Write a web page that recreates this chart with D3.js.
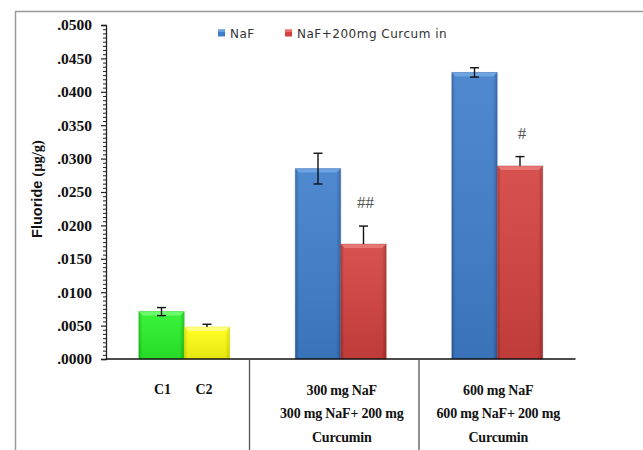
<!DOCTYPE html>
<html>
<head>
<meta charset="utf-8">
<script src="https://cdn.jsdelivr.net/npm/d3@7/dist/d3.min.js"></script>
<style>
  html, body { margin: 0; padding: 0; background: #fff; }
  svg { display: block; }
</style>
</head>
<body>
<svg id="chart" width="643" height="450"></svg>
<script>
// Groups along the x axis, each holding two bars
const groups = ["control", "300", "600"];
const groupLabels = [
  [],
  ["300 mg NaF", "300 mg NaF+ 200 mg", "Curcumin"],
  ["600 mg NaF", "600 mg NaF+ 200 mg", "Curcumin"]
];
const controlLabels = ["C1", "C2"];

// Fluoride content (µg/g): first bar and second bar of each group, with error bars
const firstValues = [0.0071, 0.0285, 0.0429];
const firstErrors = [0.0006, 0.0023, 0.0007];
const secondValues = [0.0048, 0.0172, 0.0289];
const secondErrors = [0.0004, 0.0027, 0.0014];

// Significance marks above the second bar
const marks = ["", "##", "#"];

const seriesNames = ["NaF", "NaF+200mg Curcum in"];
const yTicks = [0, 0.005, 0.01, 0.015, 0.02, 0.025, 0.03, 0.035, 0.04, 0.045, 0.05];

const palette = {
  green:  { mid: "#2af22a", edge: "#16c416", top: "#7dff7d" },
  yellow: { mid: "#ffff12", edge: "#dede00", top: "#ffffa0" },
  blue:   { mid: "#3f7fcc", edge: "#2c5fa2", top: "#79aee6" },
  red:    { mid: "#d4423f", edge: "#a5302e", top: "#ee8482" }
};

const bars = [];
groups.forEach((g, i) => {
  bars.push({ group: g, slot: 0, value: firstValues[i], err: firstErrors[i], both: true,
              color: i === 0 ? "green" : "blue" });
  bars.push({ group: g, slot: 1, value: secondValues[i], err: secondErrors[i], both: false,
              color: i === 0 ? "yellow" : "red", mark: marks[i] });
});

const svg = d3.select("#chart");
const defs = svg.append("defs");
Object.entries(palette).forEach(([k, c]) => {
  const g = defs.append("linearGradient").attr("id", "grad-" + k)
    .attr("x1", "0").attr("x2", "1").attr("y1", "0").attr("y2", "0");
  g.append("stop").attr("offset", "0").attr("stop-color", c.edge);
  g.append("stop").attr("offset", "0.08").attr("stop-color", c.mid);
  g.append("stop").attr("offset", "0.9").attr("stop-color", c.mid);
  g.append("stop").attr("offset", "1").attr("stop-color", c.edge);
  const v = defs.append("linearGradient").attr("id", "shade-" + k)
    .attr("x1", "0").attr("x2", "0").attr("y1", "0").attr("y2", "1");
  v.append("stop").attr("offset", "0").attr("stop-color", "#fff").attr("stop-opacity", 0.08);
  v.append("stop").attr("offset", "1").attr("stop-color", "#000").attr("stop-opacity", 0.1);
});

// Frame: top and left border lines
svg.append("line").attr("x1", 15).attr("x2", 643).attr("y1", 11.5).attr("y2", 11.5)
  .attr("stroke", "#9a9a9a").attr("stroke-width", 1.5);
svg.append("line").attr("x1", 15.5).attr("x2", 15.5).attr("y1", 11).attr("y2", 450)
  .attr("stroke", "#9a9a9a").attr("stroke-width", 1.5);

const x0 = 106, x1 = 575.5;
const y = d3.scaleLinear().domain([0, 0.05]).range([359, 25]);
const x = d3.scaleBand().domain(groups).range([x0, x1]).paddingInner(0).paddingOuter(0);
const xs = d3.scaleBand().domain([0, 1]).range([0, x.bandwidth()]).paddingInner(0).paddingOuter(0.72);

const serif = "'Liberation Serif', 'Times New Roman', serif";

// Y axis with major and minor ticks
const fmt = d => d3.format(".4f")(d).replace(/^0/, "");
const yAxis = svg.append("g").attr("transform", `translate(${x0},0)`)
  .call(d3.axisLeft(y).tickValues(yTicks).tickFormat(fmt).tickSize(5).tickPadding(9));
yAxis.select(".domain").attr("stroke", "#222").attr("stroke-width", 1.3);
yAxis.selectAll(".tick line").attr("stroke", "#222").attr("stroke-width", 1.2);
yAxis.selectAll(".tick text")
  .attr("font-family", serif)
  .attr("font-weight", "bold").attr("font-size", 15.5).attr("fill", "#111");
const minor = d3.range(0, 0.05 + 1e-9, 0.000625).filter(v => Math.abs(v / 0.005 - Math.round(v / 0.005)) > 1e-6);
svg.append("g").attr("transform", `translate(${x0},0)`)
  .call(d3.axisLeft(y).tickValues(minor).tickFormat("").tickSize(3))
  .call(g => g.select(".domain").remove())
  .selectAll(".tick line").attr("stroke", "#222").attr("stroke-width", 1);

// Y axis title
const title = svg.append("text")
  .attr("transform", "translate(42,189) rotate(-90)")
  .attr("text-anchor", "middle").attr("font-weight", "bold").attr("font-size", 14.5).attr("fill", "#111");
title.append("tspan").attr("font-family", "'Liberation Sans', Arial, sans-serif").text("Fluoride ");
title.append("tspan").attr("font-family", serif).text("(µg/g)");

// Bars
const barG = svg.append("g");
bars.forEach(b => {
  const bx = x(b.group) + xs(b.slot), bw = xs.bandwidth();
  const top = y(b.value), h = y(0) - top;
  barG.append("rect").attr("x", bx).attr("y", top).attr("width", bw).attr("height", h)
    .attr("fill", `url(#grad-${b.color})`);
  barG.append("rect").attr("x", bx).attr("y", top).attr("width", bw).attr("height", h)
    .attr("fill", `url(#shade-${b.color})`);
  // bevel on the top edge
  const bev = 4;
  barG.append("path")
    .attr("d", `M${bx},${top}L${bx + bw},${top}L${bx + bw - bev},${top + bev}L${bx + bev},${top + bev}Z`)
    .attr("fill", palette[b.color].top).attr("opacity", 0.75);
  barG.append("rect").attr("x", bx).attr("y", top).attr("width", bw).attr("height", h)
    .attr("fill", "none").attr("stroke", palette[b.color].edge).attr("stroke-opacity", 0.35).attr("stroke-width", 1);
});

// Error bars
const errG = svg.append("g").attr("stroke", "#111").attr("stroke-width", 1.4);
bars.forEach(b => {
  const cx = x(b.group) + xs(b.slot) + xs.bandwidth() / 2;
  const hi = y(b.value + b.err), lo = b.both ? y(b.value - b.err) : y(b.value);
  errG.append("line").attr("x1", cx).attr("x2", cx).attr("y1", hi).attr("y2", lo);
  errG.append("line").attr("x1", cx - 4.5).attr("x2", cx + 4.5).attr("y1", hi).attr("y2", hi);
  if (b.both) errG.append("line").attr("x1", cx - 4.5).attr("x2", cx + 4.5).attr("y1", lo).attr("y2", lo);
});

// Significance marks
bars.filter(b => b.mark).forEach(b => {
  const cx = x(b.group) + xs(b.slot) + xs.bandwidth() / 2 + 2;
  svg.append("text").attr("x", cx).attr("y", y(b.value + b.err) - 18)
    .attr("text-anchor", "middle")
    .attr("font-family", serif)
    .attr("font-size", 17).attr("fill", "#555").text(b.mark);
});

// X axis line
svg.append("line").attr("x1", x0).attr("x2", x1).attr("y1", y(0)).attr("y2", y(0))
  .attr("stroke", "#111").attr("stroke-width", 1.5);

// Category separators below the axis
const separators = [x(groups[1]) - 13, x(groups[2])];
separators.forEach(sx => {
  svg.append("line").attr("x1", sx).attr("x2", sx).attr("y1", y(0)).attr("y2", 450)
    .attr("stroke", "#555").attr("stroke-width", 1.3);
});

// Category labels
controlLabels.forEach((t, i) => {
  svg.append("text").attr("x", x(groups[0]) + xs(i) + xs.bandwidth() / 2 + (i === 0 ? 1 : -3)).attr("y", 393.5)
    .attr("text-anchor", "middle").attr("font-family", serif).attr("font-weight", "bold")
    .attr("font-size", 14).attr("fill", "#111").text(t);
});
groups.forEach((g, i) => {
  groupLabels[i].forEach((t, j) => {
    svg.append("text").attr("x", x(g) + x.bandwidth() / 2 + 1).attr("y", 394.5 + j * 23.5)
      .attr("text-anchor", "middle").attr("font-family", serif).attr("font-weight", "bold")
      .attr("font-size", 14).attr("letter-spacing", -0.2).attr("fill", "#111").text(t);
  });
});

// Legend
const legend = svg.append("g").attr("font-family", "'DejaVu Sans', Verdana, sans-serif")
  .attr("font-size", 12).attr("letter-spacing", 0.5).attr("fill", "#333");
const legendX = [218, 285];
seriesNames.forEach((n, i) => {
  const c = i === 0 ? "blue" : "red";
  legend.append("rect").attr("x", legendX[i]).attr("y", 29.5).attr("width", 7).attr("height", 7)
    .attr("fill", `url(#grad-${c})`);
  legend.append("rect").attr("x", legendX[i]).attr("y", 29.5).attr("width", 7).attr("height", 2.5)
    .attr("fill", palette[c].top).attr("opacity", 0.7);
  legend.append("text").attr("x", legendX[i] + 12).attr("y", 38).text(n);
});
</script>
</body>
</html>
